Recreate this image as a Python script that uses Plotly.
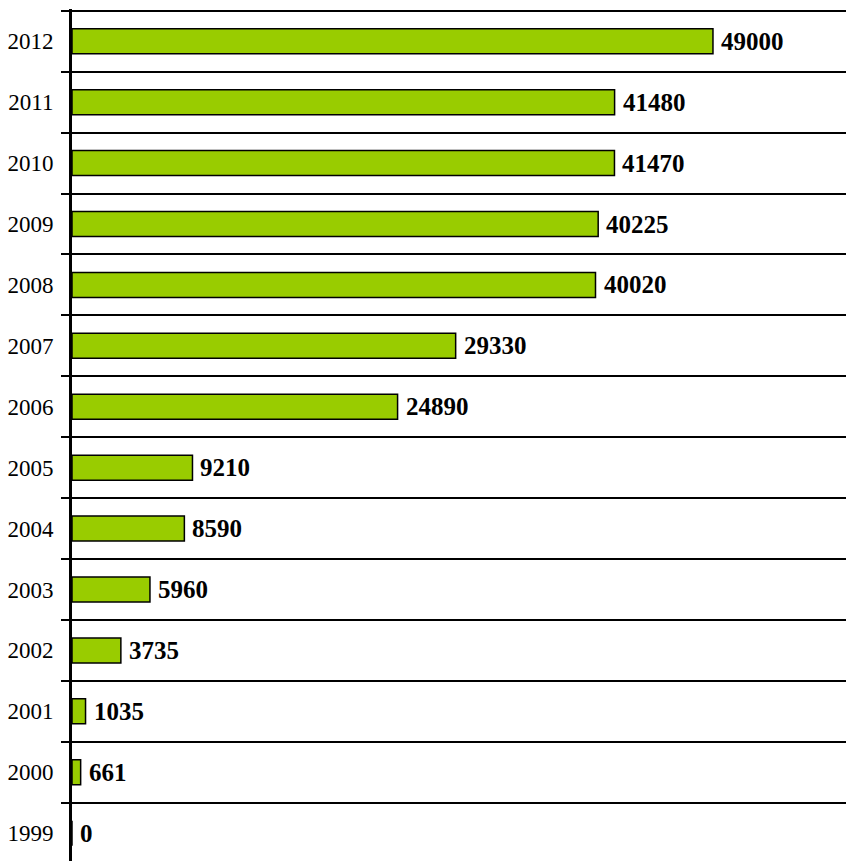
import plotly.graph_objects as go

years = ["1999", "2000", "2001", "2002", "2003", "2004", "2005",
         "2006", "2007", "2008", "2009", "2010", "2011", "2012"]
values = [0, 661, 1035, 3735, 5960, 8590, 9210,
          24890, 29330, 40020, 40225, 41470, 41480, 49000]

n = len(years)
pos = list(range(n))
boundaries = [i + 0.5 for i in range(n)]

fig = go.Figure()
fig.add_trace(go.Bar(
    x=values, y=pos, orientation="h", width=0.41,
    marker=dict(color="#99CC00", line=dict(color="black", width=1.5)),
    hoverinfo="skip",
))

for v, p in zip(values, pos):
    fig.add_annotation(
        x=v, y=p, text=str(v), showarrow=False, xanchor="left", yanchor="middle",
        xshift=6, font=dict(family="Liberation Serif", size=25, color="black", weight="bold"),
    )

fig.update_layout(
    width=846, height=861,
    margin=dict(l=72, r=0, t=9, b=0),
    plot_bgcolor="white", paper_bgcolor="white",
    showlegend=False,
    font=dict(family="Liberation Serif", color="black"),
)
fig.update_xaxes(range=[0, 59170], visible=False, fixedrange=True)
fig.update_yaxes(
    range=[-0.457, n - 0.5 + 0.03],
    tickmode="array", tickvals=pos, ticktext=years,
    ticks="outside", ticklen=11, tickcolor="rgba(0,0,0,0)",
    tickfont=dict(family="Liberation Serif", size=23, color="black"),
    showgrid=False, zeroline=False,
    showline=True, linecolor="black", linewidth=3,
    minor=dict(tickmode="array", tickvals=boundaries, ticks="outside", ticklen=8,
               tickwidth=2, tickcolor="black", showgrid=True, gridcolor="black",
               gridwidth=2),
    fixedrange=True,
)

fig.write_html("out.html", config={"displayModeBar": False},
               post_script="document.body.style.margin='0';")
